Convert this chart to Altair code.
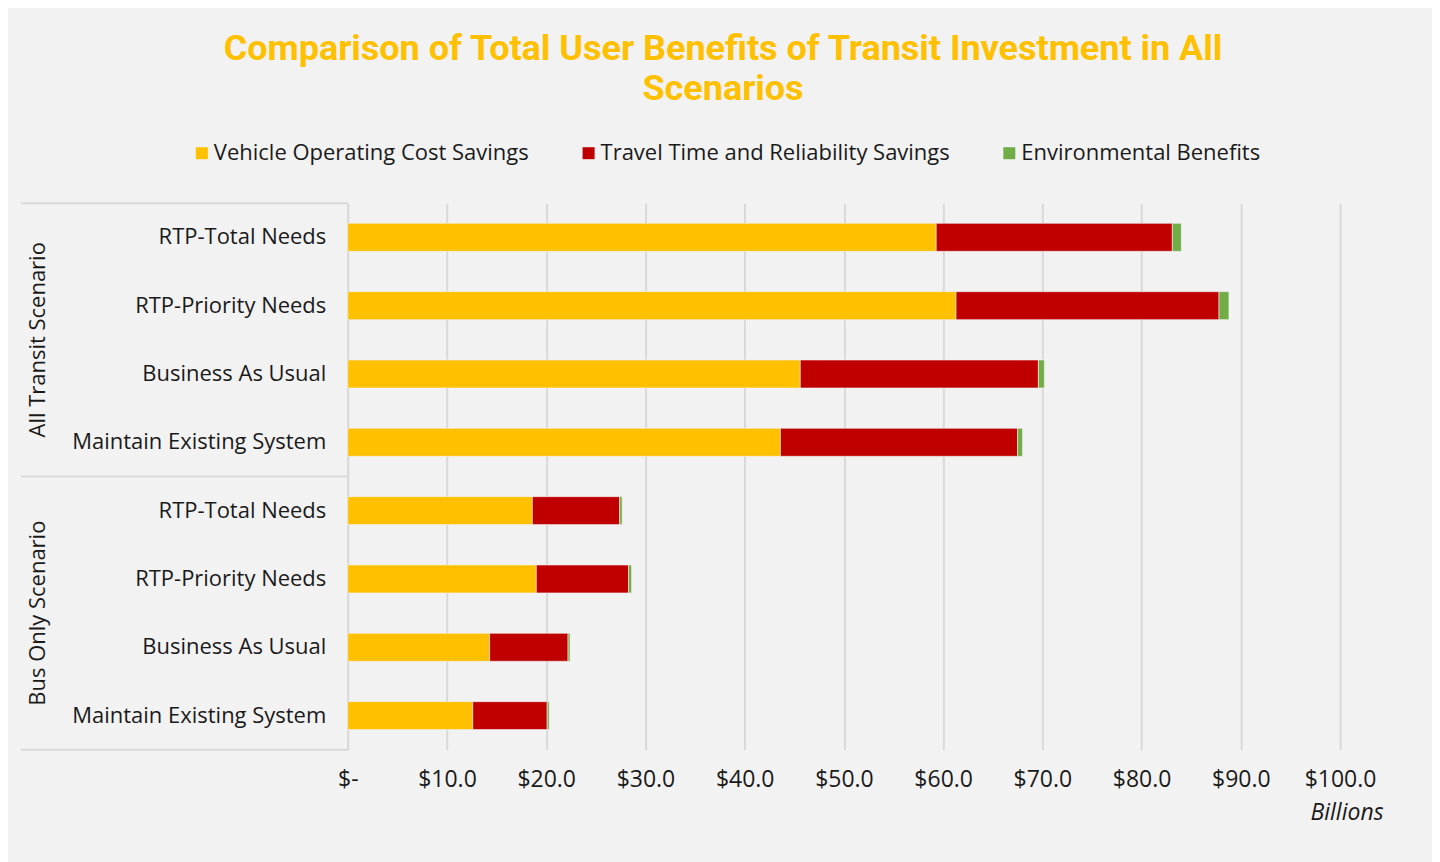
import altair as alt
import pandas as pd

groups = ["All Transit Scenario"] * 4 + ["Bus Only Scenario"] * 4
scenarios = ["RTP-Total Needs", "RTP-Priority Needs", "Business As Usual", "Maintain Existing System"] * 2
voc = [59.3, 61.3, 45.6, 43.6, 18.6, 19.0, 14.3, 12.6]
ttr = [23.8, 26.5, 24.0, 23.9, 8.8, 9.3, 7.9, 7.5]
env = [0.9, 1.0, 0.6, 0.5, 0.25, 0.3, 0.2, 0.2]

series = ["Vehicle Operating Cost Savings", "Travel Time and Reliability Savings", "Environmental Benefits"]
colors = ["#FFC000", "#C00000", "#70AD47"]
group_names = ["All Transit Scenario", "Bus Only Scenario"]
x_ticks = [0, 10, 20, 30, 40, 50, 60, 70, 80, 90, 100]

keys = [g + "|" + s for g, s in zip(groups, scenarios)]
rows = []
for key, a, b, c in zip(keys, voc, ttr, env):
    for i, (name, v) in enumerate(zip(series, [a, b, c])):
        rows.append({"key": key, "series": name, "value": v, "k": i})
df = pd.DataFrame(rows)

FONT = "Open Sans"
TXT = "#1a1a1a"
GRID = "#d9d9d9"
W, H = 993, 547

yscale = alt.Scale(domain=keys, paddingInner=0, paddingOuter=0)

bars = alt.Chart(df).mark_bar(size=28, stroke="#f2f2f2", strokeWidth=0.6).encode(
    y=alt.Y("key:N", scale=yscale,
            axis=alt.Axis(title=None, ticks=False, domainColor=GRID, domainWidth=1.5,
                          labelExpr="split(datum.value, '|')[1]",
                          labelFontSize=22, labelFont=FONT, labelColor=TXT,
                          labelPadding=22, labelLimit=400)),
    x=alt.X("value:Q", stack="zero",
            scale=alt.Scale(domain=[0, 100], nice=False),
            axis=alt.Axis(title="Billions", titleFontStyle="italic", titleFontWeight="normal",
                          titleFontSize=23, titleFont=FONT, titleColor=TXT,
                          titleAnchor="end", titleX=1036, titlePadding=10,
                          values=x_ticks,
                          labelExpr="datum.value == 0 ? '$-' : '$' + format(datum.value, '.1f')",
                          labelFontSize=23, labelFont=FONT, labelColor=TXT,
                          labelFlush=False, labelOverlap=False,
                          labelPadding=19, ticks=False, domain=False,
                          grid=True, gridColor=GRID, gridWidth=2)),
    color=alt.Color("series:N",
                    scale=alt.Scale(domain=series, range=colors),
                    legend=alt.Legend(title=None, orient="none", direction="horizontal",
                                      legendX=-157, legendY=-61,
                                      symbolType="square", symbolSize=144, symbolStrokeWidth=0,
                                      labelFontSize=22, labelFont=FONT, labelColor=TXT,
                                      labelLimit=500, columnPadding=48, labelOffset=1)),
    order=alt.Order("k:Q"),
)

gdf = pd.DataFrame({"key": [keys[1], keys[5]], "label": group_names})
glabels = alt.Chart(gdf).mark_text(angle=270, align="center", baseline="middle",
                                   fontSize=22, font=FONT, color=TXT).encode(
    y=alt.Y("key:N", scale=yscale, bandPosition=1),
    x=alt.value(-310),
    text="label:N",
)

sdf_top = pd.DataFrame({"key": [keys[0], keys[4]]})
sdf_bot = pd.DataFrame({"key": [keys[7]]})
sep_top = alt.Chart(sdf_top).mark_rule(color=GRID, strokeWidth=2).encode(
    y=alt.Y("key:N", scale=yscale, bandPosition=0),
    x=alt.value(-327), x2=alt.value(0))
sep_bot = alt.Chart(sdf_bot).mark_rule(color=GRID, strokeWidth=2).encode(
    y=alt.Y("key:N", scale=yscale, bandPosition=1),
    x=alt.value(-327), x2=alt.value(0))

chart = alt.layer(sep_top, sep_bot, bars, glabels).properties(
    width=W, height=H,
    title=alt.TitleParams(
        ["Comparison of Total User Benefits of Transit Investment in All", "Scenarios"],
        anchor="middle", frame="group", dx=-121, color="#FFC000", fontSize=36, font="Roboto",
        fontWeight="bold", lineHeight=40, offset=34),
    background="#f2f2f2",
    padding={"left": 12, "right": 49, "top": 23, "bottom": 38},
).configure_view(stroke="transparent")

chart.save("out.html", embed_options={"renderer": "svg", "actions": False})
